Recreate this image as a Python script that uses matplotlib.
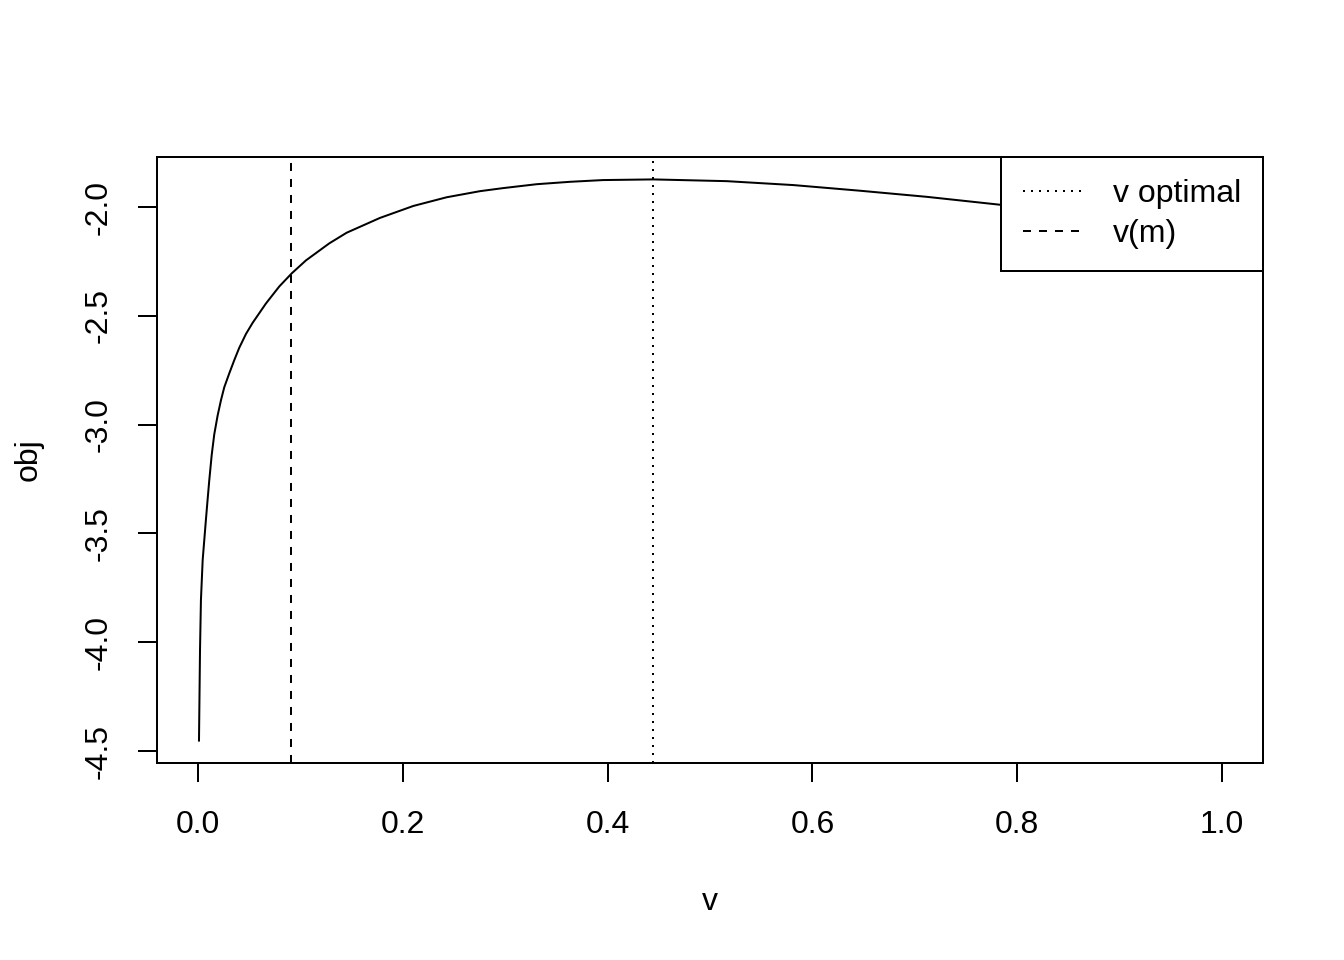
import matplotlib
matplotlib.use("Agg")
import matplotlib.pyplot as plt

plt.rcParams['font.family'] = ['Liberation Sans', 'DejaVu Sans']
plt.rcParams['axes.unicode_minus'] = False

# Data
v_vals = [0.001, 0.002, 0.0029, 0.0046, 0.0078, 0.0094, 0.011, 0.0134,
          0.0159, 0.0192, 0.0225, 0.0257, 0.0306, 0.0355, 0.0403, 0.0469, 0.0534,
          0.0664, 0.0794, 0.0915, 0.1055, 0.1282, 0.1452, 0.1777, 0.2103, 0.2429,
          0.2754, 0.2979, 0.3308, 0.3633, 0.3955, 0.4446, 0.5163, 0.5813, 0.6465,
          0.7116, 0.7864, 0.85, 0.92, 1.0]
obj_vals = [-4.452, -4.036, -3.806, -3.622, -3.435, -3.345, -3.258, -3.140,
            -3.045, -2.958, -2.887, -2.828, -2.764, -2.703, -2.647, -2.583, -2.532,
            -2.443, -2.365, -2.305, -2.245, -2.167, -2.118, -2.050, -1.995, -1.955,
            -1.927, -1.913, -1.895, -1.884, -1.876, -1.873, -1.881, -1.899, -1.925,
            -1.953, -1.991, -2.025, -2.065, -2.115]
v_optimal = 0.4443
v_m = 0.0908
x_ticks = [0.0, 0.2, 0.4, 0.6, 0.8, 1.0]
y_ticks = [-4.5, -4.0, -3.5, -3.0, -2.5, -2.0]
legend_labels = ["v optimal", "v(m)"]

fig = plt.figure(figsize=(7, 5), dpi=192)
ax = fig.add_axes([157/1344, 1 - 763/960, (1263 - 157)/1344, (763 - 157)/960])

ax.plot(v_vals, obj_vals, color='black', lw=0.75)
ax.axvline(v_optimal, color='black', lw=0.75, linestyle=(0, (1, 3)), label=legend_labels[0])
ax.axvline(v_m, color='black', lw=0.75, linestyle=(0, (4, 4)), label=legend_labels[1])

ax.set_xlim(-0.04, 1.04)
ax.set_ylim(-4.555, -1.770)
ax.set_xticks(x_ticks)
ax.set_xticklabels([f"{t:.1f}" for t in x_ticks])
ax.set_yticks(y_ticks)
ax.set_yticklabels([f"{t:.1f}" for t in y_ticks])
ax.tick_params(length=7.2, width=0.75, labelsize=12, colors='black')
ax.tick_params(axis='x', pad=10.5)
ax.tick_params(axis='y', pad=9)
for lbl in ax.get_yticklabels():
    lbl.set_rotation(90)
    lbl.set_va('center')
for s in ax.spines.values():
    s.set_linewidth(0.75)
    s.set_color('black')

ax.set_xlabel("v", fontsize=12, labelpad=17.4)
ax.set_ylabel("obj", fontsize=12, labelpad=15)

leg = ax.legend(loc='upper right', borderaxespad=0, fancybox=False, framealpha=1,
                edgecolor='black', fontsize=12, handlelength=1.95, handletextpad=0.85,
                borderpad=0.69, labelspacing=0.32)
leg.get_frame().set_linewidth(0.75)

fig.savefig("out.png", dpi=192)
